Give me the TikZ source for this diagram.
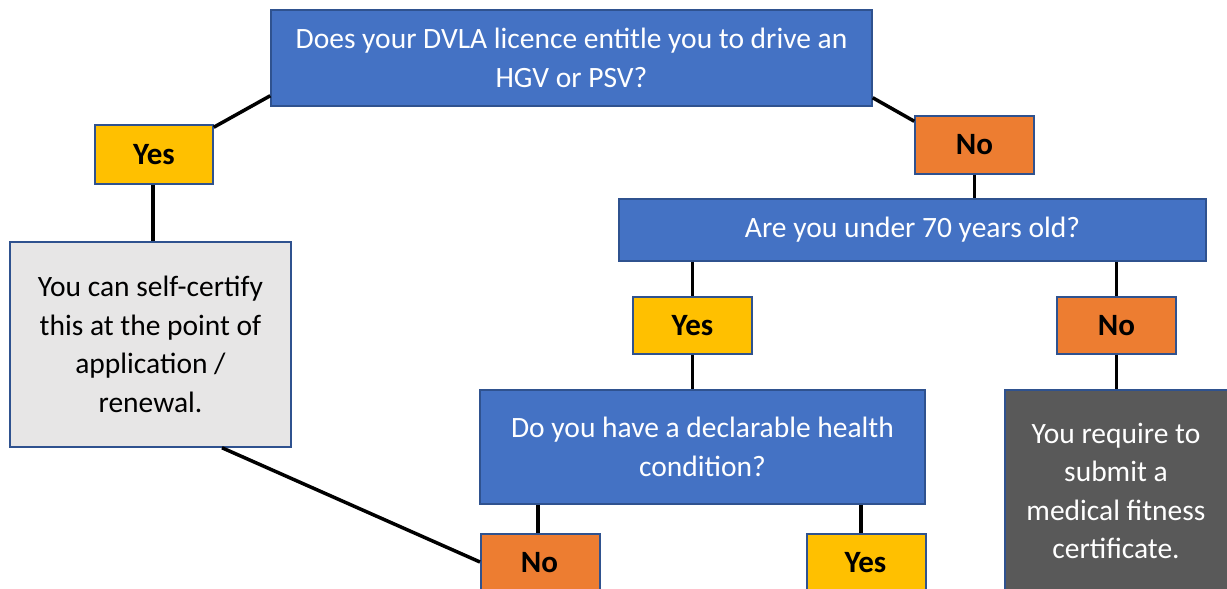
\documentclass[tikz,border=0pt]{standalone}
\usepackage{fontspec}
\setmainfont{Carlito}
\definecolor{qblue}{HTML}{4472C4}
\definecolor{qyellow}{HTML}{FFC000}
\definecolor{qorange}{HTML}{ED7D31}
\definecolor{qgrey}{HTML}{E7E6E6}
\definecolor{qdark}{HTML}{595959}
\definecolor{qborder}{HTML}{2F528F}
\begin{document}
\begin{tikzpicture}[x=1pt,y=-1pt,
  body/.style={font=\fontsize{29.5}{38.5}\selectfont},
  lab/.style={font=\fontsize{31}{34}\selectfont\bfseries},
  box/.style={draw=qborder,line width=1.5pt,inner sep=0pt,align=center,body},
  question/.style={box,fill=qblue,text=white},
  yesbox/.style={box,fill=qyellow,lab},
  nobox/.style={box,fill=qorange,lab},
  link/.style={line width=3.5pt,black}]
\useasboundingbox (0,0) rectangle (1227,589);
\clip (0,0) rectangle (1227,589);
\fill[white] (0,0) rectangle (1227,589);
\node[question,minimum width=601pt,minimum height=96pt] (q1) at (571.5,58) {Does your DVLA licence entitle you to drive an\\HGV or PSV?};
\node[yesbox,minimum width=118pt,minimum height=59pt] (y1) at (154,154.5) {Yes};
\node[nobox,minimum width=119pt,minimum height=58pt] (n1) at (974.5,145) {No};
\node[question,minimum width=587pt,minimum height=62pt] (q2) at (912.5,230) {Are you under 70 years old?};
\node[yesbox,minimum width=119pt,minimum height=57pt] (y2) at (692.5,325.5) {Yes};
\node[nobox,minimum width=119pt,minimum height=57pt] (n2) at (1116.5,325.5) {No};
\node[box,fill=qgrey,minimum width=281pt,minimum height=205pt] (g1) at (150.5,344.5) {You can self-certify\\this at the point of\\application /\\renewal.};
\node[question,minimum width=445pt,minimum height=114pt] (q3) at (702.5,447) {Do you have a declarable health\\condition?};
\node[box,fill=qdark,minimum width=240pt,minimum height=250pt,anchor=north west] (d1) at (1004,389) {};
\node[text=white,body,align=center] (d1t) at (1116,491) {You require to\\submit a\\medical fitness\\certificate.};
\node[nobox,minimum width=119pt,minimum height=80pt,anchor=north west] (n3) at (480,533) {};
\node[lab] (n3t) at (539.5,563) {No};
\node[yesbox,minimum width=119pt,minimum height=80pt,anchor=north west] (y3) at (806,533) {};
\node[lab] (y3t) at (865.5,563) {Yes};
% connectors
\draw[link] ([yshift=-3pt]y1.north east) -- ([yshift=11pt]q1.south west);
\draw[link] (y1.south -| 153,0) -- (g1.north -| 153,0);
\draw[link] ([yshift=9pt]q1.south east) -- ([yshift=-6pt]n1.north west);
\draw[link] (n1.south) -- (q2.north -| n1.south);
\draw[link] (q2.south -| y2.north) -- (y2.north);
\draw[link] (q2.south -| n2.north) -- (n2.north);
\draw[link] (y2.south) -- (q3.north -| y2.south);
\draw[link] (n2.south) -- (d1.north -| n2.south);
\draw[link] (q3.south -| 538,0) -- (n3.north -| 538,0);
\draw[link] (q3.south -| 861,0) -- (y3.north -| 861,0);
\draw[link] (g1.south -| 222,0) -- ([yshift=-29pt]n3.north west);
\end{tikzpicture}
\end{document}
